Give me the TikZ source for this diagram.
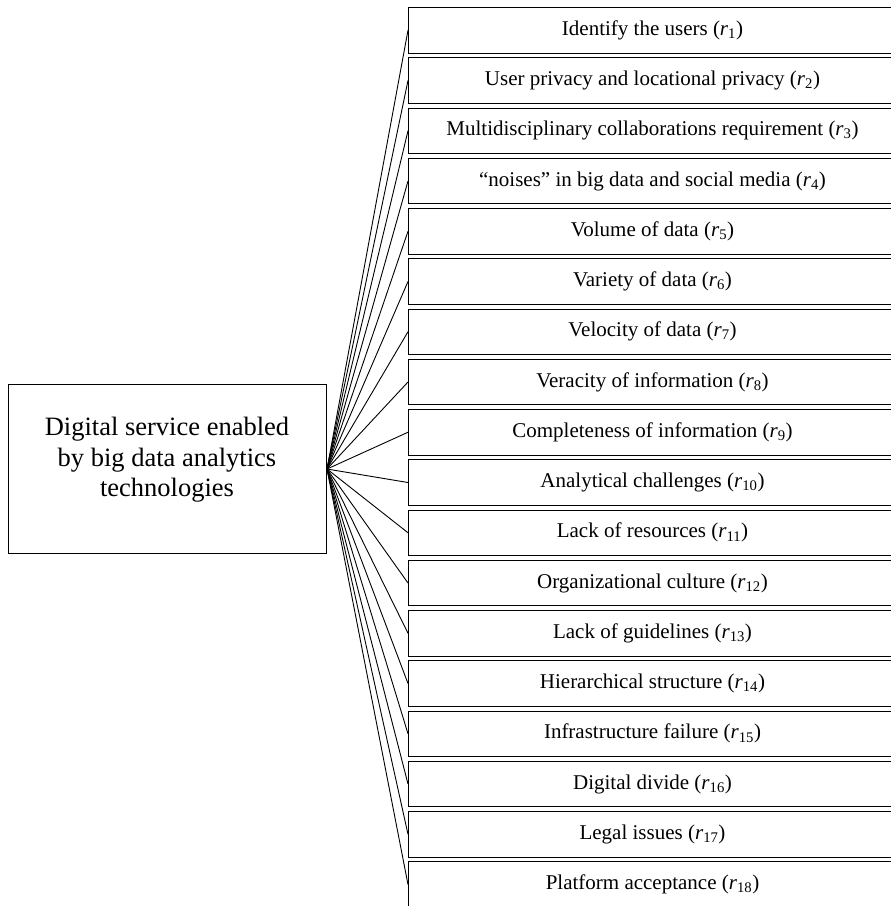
\documentclass[tikz,border=0pt]{standalone}
\usepackage{fontspec}
\setmainfont{Liberation Serif}
\begin{document}
\begin{tikzpicture}[x=1pt,y=-1pt,
  rbox/.style={draw, line width=1pt, minimum width=488pt, minimum height=45.5pt,
    inner sep=0pt, anchor=north west, font=\fontsize{21}{25}\selectfont},
  mainbox/.style={draw, line width=1pt, minimum width=318pt, minimum height=169pt,
    inner sep=0pt, anchor=north west},
  maintxt/.style={align=center, font=\fontsize{26.5}{30.5}\selectfont},
  link/.style={line width=0.9pt}]
\clip (0,0) rectangle (891,906);
\node[mainbox] (main) at (8,384) {};
\node[maintxt] (maintext) at (167,460) {Digital service enabled\\by big data analytics\\technologies};
\foreach \i/\t in {1/{Identify the users},
  2/{User privacy and locational privacy},
  3/{Multidisciplinary collaborations requirement},
  4/{“noises” in big data and social media},
  5/{Volume of data},
  6/{Variety of data},
  7/{Velocity of data},
  8/{Veracity of information},
  9/{Completeness of information},
  10/{Analytical challenges},
  11/{Lack of resources},
  12/{Organizational culture},
  13/{Lack of guidelines},
  14/{Hierarchical structure},
  15/{Infrastructure failure},
  16/{Digital divide},
  17/{Legal issues},
  18/{Platform acceptance}}{
  \node[rbox] (r\i) at (408,{7+50.25*(\i-1)}) {\t\ (\textit{r}\textsubscript{\i})};
  \draw[link] (main.east) -- (r\i.west);
}
\end{tikzpicture}
\end{document}
